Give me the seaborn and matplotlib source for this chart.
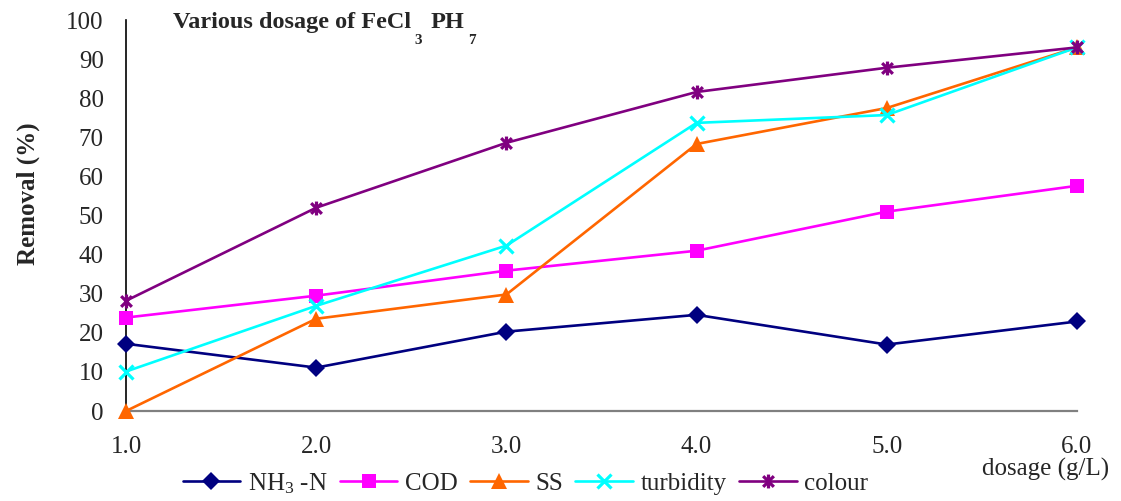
import numpy as np
import pandas as pd
import matplotlib
matplotlib.use('Agg')
import matplotlib.pyplot as plt
from matplotlib.path import Path
import seaborn as sns

# data
dosage = [1.0, 2.0, 3.0, 4.0, 5.0, 6.0]
nh3_n = [17.2, 11.1, 20.3, 24.6, 17.0, 22.9]
cod = [23.9, 29.5, 35.9, 41.0, 51.0, 57.6]
ss = [0.0, 23.6, 29.8, 68.3, 77.5, 93.0]
turbidity = [10.1, 26.9, 42.3, 73.7, 75.7, 93.0]
colour = [28.2, 52.0, 68.6, 81.6, 87.8, 93.0]
x_ticks = ['1.0', '2.0', '3.0', '4.0', '5.0', '6.0']

sns.set_style('white')
plt.rcParams['font.family'] = ['Liberation Serif', 'DejaVu Serif']
plt.rcParams['mathtext.fontset'] = 'custom'
plt.rcParams['mathtext.rm'] = 'Liberation Serif'
plt.rcParams['mathtext.it'] = 'Liberation Serif'
plt.rcParams['mathtext.bf'] = 'Liberation Serif:bold'

df = pd.DataFrame({'dosage': dosage, 'NH3-N': nh3_n, 'COD': cod, 'SS': ss,
                   'turbidity': turbidity, 'colour': colour})

# excel style star: x with a vertical bar
star = Path([(-1, -1), (1, 1), (-1, 1), (1, -1), (0, -1.3), (0, 1.3)],
            [Path.MOVETO, Path.LINETO, Path.MOVETO, Path.LINETO, Path.MOVETO, Path.LINETO])

fig = plt.figure(figsize=(11.21, 5.01), dpi=100)
ax = fig.add_axes([0.1124, 0.1796, 0.8483, 0.7804])

lw = 1.9
sns.lineplot(data=df, x='dosage', y='NH3-N', ax=ax, color='#000080', lw=lw,
             marker='D', markersize=9, markeredgewidth=0, label='NH$_3$ -N',
             clip_on=False, zorder=3)
sns.lineplot(data=df, x='dosage', y='COD', ax=ax, color='#FF00FF', lw=lw,
             marker='s', markersize=10, markeredgewidth=0, label='COD',
             clip_on=False, zorder=3)
sns.lineplot(data=df, x='dosage', y='SS', ax=ax, color='#FF6600', lw=lw,
             marker='^', markersize=12, markeredgewidth=0, label='SS',
             clip_on=False, zorder=3)
sns.lineplot(data=df, x='dosage', y='turbidity', ax=ax, color='#00FFFF', lw=lw,
             marker='x', markersize=10, markeredgewidth=2.3, markeredgecolor='#00FFFF',
             label='turbidity', clip_on=False, zorder=3)
sns.lineplot(data=df, x='dosage', y='colour', ax=ax, color='#800080', lw=lw,
             marker=star, markersize=10, markeredgewidth=2.3, markeredgecolor='#800080',
             label='colour', clip_on=False, zorder=3)

ax.set_xlim(1.0, 6.0)
ax.set_ylim(0, 100)
ax.set_xticks(dosage)
ax.set_xticklabels(x_ticks)
ax.set_yticks(range(0, 101, 10))
ax.tick_params(axis='both', direction='in', length=8, width=1.3, color='#808080',
               labelsize=18, pad=18)
ax.tick_params(axis='y', pad=16)

for s in ['top', 'right']:
    ax.spines[s].set_visible(False)
ax.spines['left'].set_color('black')
ax.spines['left'].set_linewidth(1.2)
ax.spines['bottom'].set_color('#808080')
ax.spines['bottom'].set_linewidth(1.6)

ax.set_ylabel('Removal (%)', fontsize=18, fontweight='bold')
ax.yaxis.set_label_coords(-0.09, 0.557)
ax.set_xlabel('dosage (g/L)', fontsize=18)
ax.xaxis.set_label_coords(0.967, -0.12)

# title with low subscripts
t1 = fig.text(0.154, 0.944, 'Various dosage of FeCl', fontsize=17.5, fontweight='bold',
              va='baseline')
ax.annotate('3', xy=(1, 0), xycoords=t1, xytext=(3, -1), textcoords='offset points',
            fontsize=11, fontweight='bold', va='top')
t2 = ax.annotate('PH', xy=(1, 0), xycoords=t1, xytext=(14, 0), textcoords='offset points',
                 fontsize=17.5, fontweight='bold', va='bottom')
ax.annotate('7', xy=(1, 0), xycoords=t2, xytext=(3, -1), textcoords='offset points',
            fontsize=11, fontweight='bold', va='top')

ax.legend(loc='center', bbox_to_anchor=(0.42, -0.185), ncol=5, frameon=False,
          fontsize=18, handlelength=2.3, handletextpad=0.3, columnspacing=0.5,
          borderaxespad=0)

fig.savefig('out.png', dpi=100)
